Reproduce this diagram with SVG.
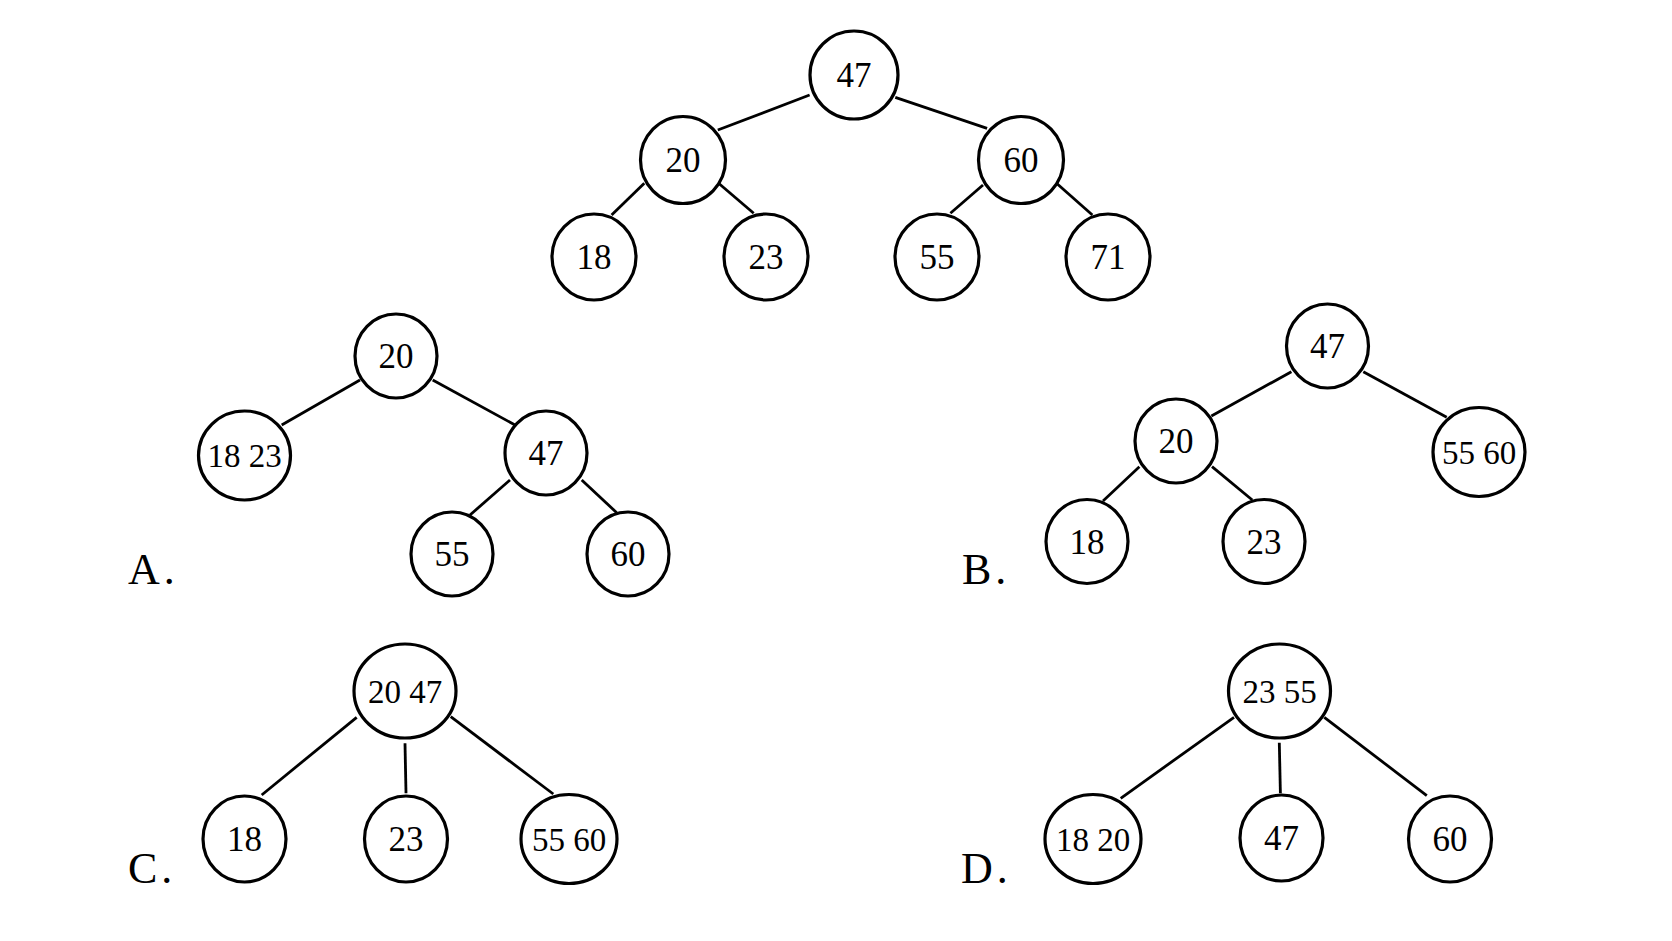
<svg xmlns="http://www.w3.org/2000/svg" width="1672" height="941" viewBox="0 0 1672 941">
<style>
.n ellipse{fill:#fff;stroke:#000;stroke-width:3.2}
.n text{font-family:"Liberation Serif","Times New Roman",serif;font-size:35px;text-anchor:middle;fill:#000}
.n text.w{font-size:33px}
#connectors line{stroke:#000;stroke-width:2.8;fill:none}
.lbl{font-family:"Liberation Serif","Times New Roman",serif;font-size:44px;fill:#000}
</style>
<rect width="1672" height="941" fill="#fff"/>
<g id="connectors">
<line x1="809.6" y1="95" x2="717.8" y2="130"/>
<line x1="895.3" y1="97.3" x2="987.1" y2="128.3"/>
<line x1="644.3" y1="183.3" x2="611.6" y2="215"/>
<line x1="718.6" y1="183.3" x2="753.7" y2="213.3"/>
<line x1="983" y1="185" x2="950.4" y2="213.3"/>
<line x1="1056.5" y1="183.3" x2="1092.4" y2="215"/>
<line x1="360" y1="380" x2="281.7" y2="425"/>
<line x1="432.7" y1="380" x2="515" y2="425"/>
<line x1="510" y1="480" x2="470" y2="515"/>
<line x1="581.7" y1="480" x2="616.7" y2="512.7"/>
<line x1="1291.4" y1="371.7" x2="1211.4" y2="416"/>
<line x1="1363.3" y1="371.7" x2="1446.7" y2="417.3"/>
<line x1="1139.4" y1="466.7" x2="1103" y2="501"/>
<line x1="1212" y1="466.7" x2="1252.3" y2="500"/>
<line x1="356.7" y1="717.3" x2="261.7" y2="795"/>
<line x1="405" y1="743.3" x2="406" y2="793.3"/>
<line x1="450.7" y1="716.7" x2="553.3" y2="794"/>
<line x1="1234" y1="717.3" x2="1120.7" y2="798.3"/>
<line x1="1279.3" y1="742.7" x2="1280.4" y2="793.3"/>
<line x1="1324.3" y1="717.3" x2="1426.8" y2="795.7"/>
</g>
<g id="t47" class="n"><ellipse cx="854" cy="75" rx="44" ry="44"/><text x="854" y="87">47</text></g>
<g id="t20" class="n"><ellipse cx="683" cy="160" rx="42.5" ry="43.5"/><text x="683" y="172">20</text></g>
<g id="t60" class="n"><ellipse cx="1021" cy="160" rx="42.5" ry="43.5"/><text x="1021" y="172">60</text></g>
<g id="t18" class="n"><ellipse cx="594" cy="257" rx="42" ry="43"/><text x="594" y="269">18</text></g>
<g id="t23" class="n"><ellipse cx="766" cy="257" rx="42" ry="43"/><text x="766" y="269">23</text></g>
<g id="t55" class="n"><ellipse cx="937" cy="257" rx="42" ry="43"/><text x="937" y="269">55</text></g>
<g id="t71" class="n"><ellipse cx="1108" cy="257" rx="42" ry="43"/><text x="1108" y="269">71</text></g>

<g id="a20" class="n"><ellipse cx="396" cy="356" rx="41" ry="42"/><text x="396" y="368">20</text></g>
<g id="a1823" class="n"><ellipse cx="244.5" cy="455.5" rx="46" ry="44.5"/><text class="w" x="244.5" y="467">18 23</text></g>
<g id="a47" class="n"><ellipse cx="546" cy="453" rx="41" ry="42"/><text x="546" y="465">47</text></g>
<g id="a55" class="n"><ellipse cx="452" cy="554" rx="41" ry="42"/><text x="452" y="566">55</text></g>
<g id="a60" class="n"><ellipse cx="628" cy="554" rx="41" ry="42"/><text x="628" y="566">60</text></g>
<text id="labelA" class="lbl" x="128" y="584">A<tspan dx="4">.</tspan></text>

<g id="b47" class="n"><ellipse cx="1327.5" cy="346" rx="41" ry="42"/><text x="1327.5" y="358">47</text></g>
<g id="b20" class="n"><ellipse cx="1176" cy="441" rx="41" ry="42"/><text x="1176" y="453">20</text></g>
<g id="b5560" class="n"><ellipse cx="1479" cy="452" rx="46" ry="44.5"/><text class="w" x="1479" y="463.5">55 60</text></g>
<g id="b18" class="n"><ellipse cx="1087" cy="541.5" rx="41" ry="42"/><text x="1087" y="553.5">18</text></g>
<g id="b23" class="n"><ellipse cx="1264" cy="541.5" rx="41" ry="42"/><text x="1264" y="553.5">23</text></g>
<text id="labelB" class="lbl" x="962" y="584">B<tspan dx="4">.</tspan></text>

<g id="c2047" class="n"><ellipse cx="405" cy="691" rx="51" ry="47"/><text class="w" x="405" y="703">20 47</text></g>
<g id="c18" class="n"><ellipse cx="244.5" cy="839" rx="41.5" ry="43"/><text x="244.5" y="851">18</text></g>
<g id="c23" class="n"><ellipse cx="406" cy="839" rx="41.5" ry="43"/><text x="406" y="851">23</text></g>
<g id="c5560" class="n"><ellipse cx="569" cy="839" rx="48" ry="44.5"/><text class="w" x="569" y="850.5">55 60</text></g>
<text id="labelC" class="lbl" x="128" y="883">C<tspan dx="4">.</tspan></text>

<g id="d2355" class="n"><ellipse cx="1279.5" cy="691" rx="51" ry="47"/><text class="w" x="1279.5" y="703">23 55</text></g>
<g id="d1820" class="n"><ellipse cx="1093" cy="839" rx="48" ry="44.5"/><text class="w" x="1093" y="850.5">18 20</text></g>
<g id="d47" class="n"><ellipse cx="1281.5" cy="838" rx="41.5" ry="43"/><text x="1281.5" y="850">47</text></g>
<g id="d60" class="n"><ellipse cx="1450" cy="839" rx="41.5" ry="43"/><text x="1450" y="851">60</text></g>
<text id="labelD" class="lbl" x="961" y="883">D<tspan dx="4">.</tspan></text>
</svg>
